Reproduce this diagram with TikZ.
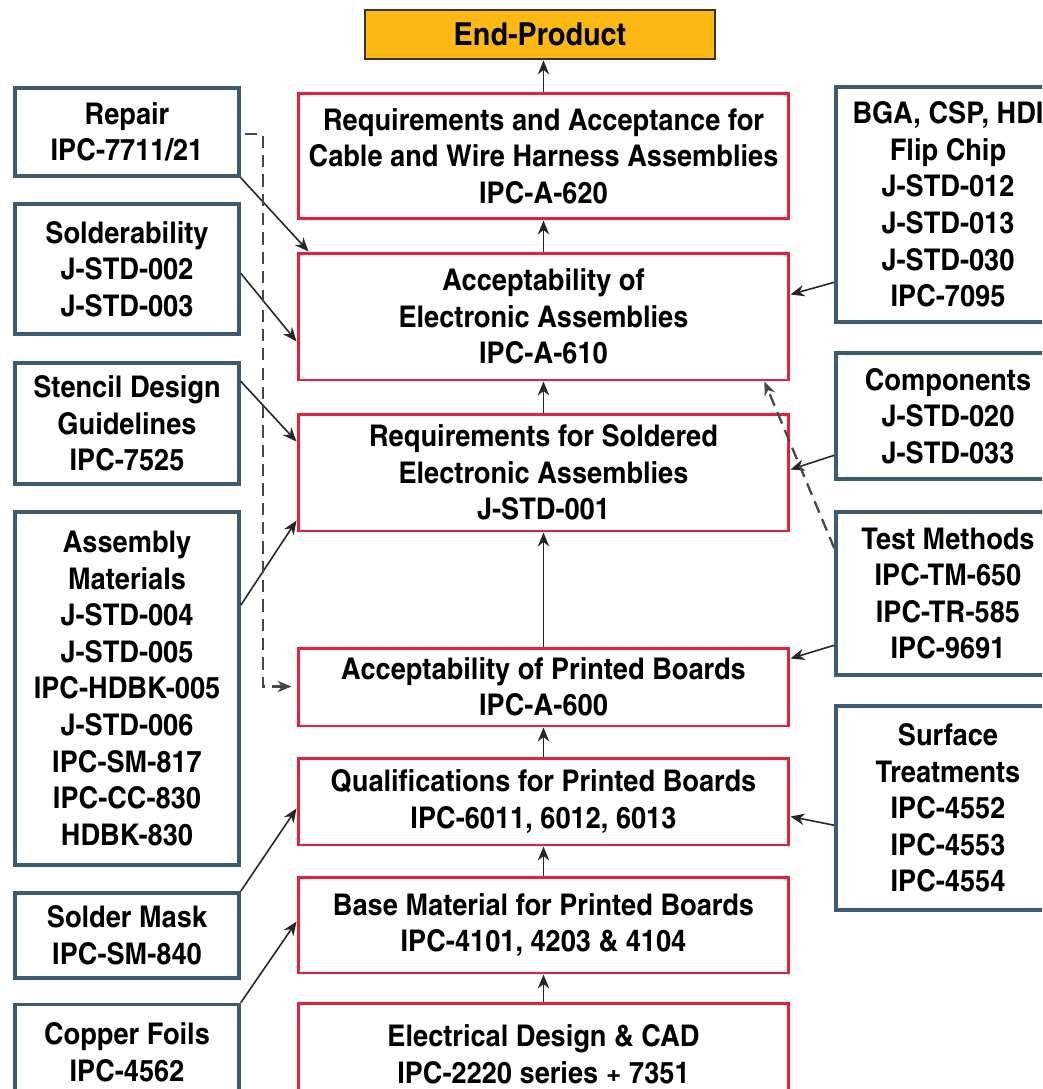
\documentclass[tikz,border=0pt]{standalone}
\usepackage{fontspec}
\setmainfont{texgyreheroscn-bold.otf}[FakeStretch=1.11]
\usetikzlibrary{arrows.meta,calc}
\definecolor{ipcred}{HTML}{E8203E}
\definecolor{ipcslate}{HTML}{3E5A70}
\definecolor{ipcgold}{HTML}{FDB913}
\tikzset{
  stdbox/.style={draw=ipcred, line width=1.7pt, align=center, inner sep=0pt,
    font=\fontsize{17}{20.8}\selectfont},
  refbox/.style={draw=ipcslate, line width=2pt, align=center, inner sep=0pt,
    font=\fontsize{17}{20.8}\selectfont},
  topbox/.style={draw=black!80, fill=ipcgold, line width=1.6pt, align=center,
    inner sep=0pt, font=\fontsize{18}{20.8}\selectfont},
  feed/.style={-{Stealth[length=8pt,width=6.5pt]}, line width=0.9pt, black!85},
  feeddash/.style={feed, dash pattern=on 7pt off 4pt, line width=1.3pt, black!72},
}
\begin{document}
\begin{tikzpicture}[x=0.02cm, y=-0.02cm]%
%
\clip (0,0) rectangle (1042,1089);
%
% main chain
\node[topbox, minimum width=7cm, minimum height=0.98cm] (endp) at (540,34.5) {End-Product};
\node[stdbox, minimum width=9.82cm, minimum height=2.52cm] (c620) at (543.5,156)
  {Requirements and Acceptance for\\Cable and Wire Harness Assemblies\\IPC-A-620};
\node[stdbox, minimum width=9.82cm, minimum height=2.54cm] (c610) at (543.5,316.5)
  {Acceptability of\\Electronic Assemblies\\IPC-A-610};
\node[stdbox, minimum width=9.82cm, minimum height=2.34cm] (c001) at (543.5,472.5)
  {Requirements for Soldered\\Electronic Assemblies\\J-STD-001};
\node[stdbox, minimum width=9.82cm, minimum height=1.56cm] (c600) at (543.5,687)
  {Acceptability of Printed Boards\\IPC-A-600};
\node[stdbox, minimum width=9.82cm, minimum height=1.74cm] (c6011) at (543.5,801.5)
  {Qualifications for Printed Boards\\IPC-6011, 6012, 6013};
\node[stdbox, minimum width=9.82cm, minimum height=1.92cm] (c4101) at (543.5,925)
  {Base Material for Printed Boards\\IPC-4101, 4203 \& 4104};
\node[stdbox, minimum width=9.82cm, minimum height=2.04cm] (c2220) at (543.5,1054)
  {Electrical Design \& CAD\\IPC-2220 series + 7351};
%
% left column
\node[refbox, minimum width=4.48cm, minimum height=1.76cm] (repair) at (127,132)
  {Repair\\IPC-7711/21};
\node[refbox, minimum width=4.48cm, minimum height=2.6cm] (solder) at (127,269)
  {Solderability\\J-STD-002\\J-STD-003};
\node[refbox, minimum width=4.48cm, minimum height=2.42cm] (stencil) at (127,423.5)
  {Stencil Design\\Guidelines\\IPC-7525};
\node[refbox, minimum width=4.48cm, minimum height=7.06cm] (assembly) at (127,688.5)
  {Assembly\\Materials\\J-STD-004\\J-STD-005\\IPC-HDBK-005\\J-STD-006\\IPC-SM-817\\IPC-CC-830\\HDBK-830};
\node[refbox, minimum width=4.48cm, minimum height=1.7cm] (mask) at (127,935.5)
  {Solder Mask\\IPC-SM-840};
\node[refbox, minimum width=4.48cm, minimum height=1.9cm] (copper) at (127,1052)
  {Copper Foils\\IPC-4562};
%
% right column
\node[refbox, minimum width=4.48cm, minimum height=4.7cm] (bga) at (948,204.5)
  {BGA, CSP, HDI\\Flip Chip\\J-STD-012\\J-STD-013\\J-STD-030\\IPC-7095};
\node[refbox, minimum width=4.48cm, minimum height=2.52cm] (comp) at (948,416)
  {Components\\J-STD-020\\J-STD-033};
\node[refbox, minimum width=4.48cm, minimum height=3.26cm] (test) at (948,593.5)
  {Test Methods\\IPC-TM-650\\IPC-TR-585\\IPC-9691};
\node[refbox, minimum width=4.48cm, minimum height=4.08cm] (surf) at (948,808)
  {Surface\\Treatments\\IPC-4552\\IPC-4553\\IPC-4554};
%
% upward chain
\draw[feed] (c620.north) -- (c620.north |- endp.south);
\draw[feed] (c610.north) -- (c620.south);
\draw[feed] (c001.north) -- (c610.south);
\draw[feed] (c600.north) -- (c001.south);
\draw[feed] (c6011.north) -- (c600.south);
\draw[feed] (c4101.north) -- (c6011.south);
\draw[feed] (c2220.north) -- (c4101.south);
%
% inputs from the left
\draw[feed] (repair.south east) -- ($(c610.north west)+(12,0)$);
\draw[feed] ($(solder.north east)+(0,71)$) -- ($(c610.north west)+(0,90)$);
\draw[feed] ($(stencil.north east)+(0,20)$) -- ($(c001.north west)+(0,29)$);
\draw[feed] ($(assembly.north east)+(0,95)$) -- ($(c001.north west)+(0,108)$);
\draw[feed] (mask.north east) -- ($(c6011.north west)+(0,52)$);
\draw[feed] (copper.north east) -- ($(c4101.north west)+(0,46)$);
\draw[feeddash] ($(repair.north east)+(4,48)$) -- ++(18,0) |- ($(c600.north west)+(-5,40)$);
%
% inputs from the right
\draw[feed] ($(bga.north west)+(0,197)$) -- ($(c610.north east)+(0,43)$);
\draw[feed] ($(comp.north west)+(0,104)$) -- ($(c001.north east)+(0,57)$);
\draw[feed] ($(test.north west)+(0,135)$) -- ($(c600.north east)+(0,12)$);
\draw[feed] ($(surf.north west)+(0,121)$) -- ($(c6011.north east)+(0,60)$);
\draw[feeddash] ($(test.north west)+(0,38)$) -- ($(c610.south east)+(-26,0)$);
%
\end{tikzpicture}
\end{document}
